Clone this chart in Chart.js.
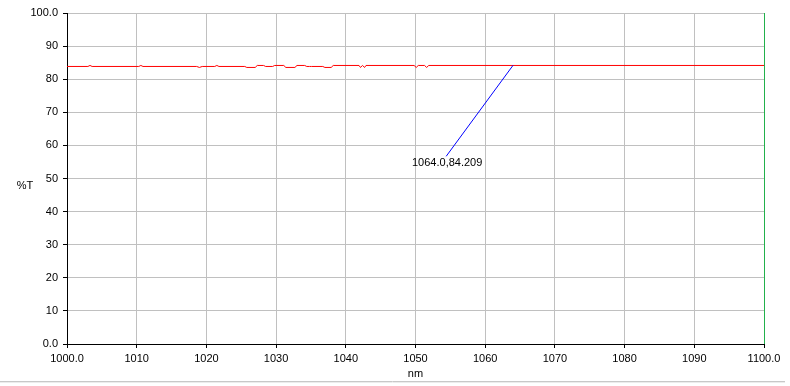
<!DOCTYPE html>
<html>
<head>
<meta charset="utf-8">
<script src="https://cdn.jsdelivr.net/npm/chart.js@4/dist/chart.umd.min.js"></script>
<style>
html,body{margin:0;padding:0;background:#fff;}
#wrap{width:790px;height:386px;position:relative;}
</style>
</head>
<body>
<div id="wrap"><canvas id="c" width="790" height="386"></canvas></div>
<script>
// Spectrum (%T vs wavelength in nm)
const wavelengthNm = [1000, 1003, 1003.3, 1003.6, 1010.3, 1010.6, 1010.9, 1018.6, 1019, 1019.4,
  1021.2, 1021.5, 1021.8, 1025.5, 1025.8, 1027, 1027.3, 1028.2, 1028.5, 1029.5,
  1029.8, 1031.1, 1031.4, 1032.7, 1033, 1034.1, 1034.4, 1034.8, 1035.1, 1036.7,
  1037, 1037.9, 1038.2, 1041.9, 1042.1, 1042.4, 1042.7, 1042.9, 1049.8, 1050.1,
  1050.4, 1051.3, 1051.6, 1051.9, 1100];
const transmittance = [83.85, 83.85, 84.15, 83.85, 83.85, 84.15, 83.85, 83.85, 83.55, 83.85,
  83.85, 84.15, 83.85, 83.85, 83.55, 83.55, 84.15, 84.15, 83.85, 83.85,
  84.15, 84.15, 83.55, 83.55, 84.15, 84.15, 83.85, 83.85, 83.85, 83.85,
  83.55, 83.55, 84.15, 84.15, 83.55, 84.15, 83.55, 84.15, 84.15, 83.55,
  84.15, 84.15, 83.55, 84.15, 84.15];

// Cursor annotation: marked point and label anchor
const cursorX = [1064.0, 1054.4];
const cursorY = [84.209, 56.7];
const cursorLabel = "1064.0,84.209";

// Axis ranges / tick steps
const xRange = [1000, 1100];
const yRange = [0, 100];
const xStep = 10;
const yStep = 10;
const xTitle = "nm";
const yTitle = "%T";

const spectrum = wavelengthNm.map((x, i) => ({x: x, y: transmittance[i]}));
const cursorPts = cursorX.map((x, i) => ({x: x, y: cursorY[i]}));

Chart.defaults.font.family = "'Liberation Sans', Arial, sans-serif";
Chart.defaults.font.size = 11;
Chart.defaults.color = '#000';

function endFmt(v, i, ticks) {
  return (i === 0 || i === ticks.length - 1) ? Number(v).toFixed(1) : String(v);
}

const extras = {
  id: 'extras',
  afterDraw(chart) {
    const ctx = chart.ctx;
    const xs = chart.scales.x, ys = chart.scales.y;
    ctx.save();
    ctx.font = "11px 'Liberation Sans', Arial, sans-serif";
    ctx.fillStyle = '#000';
    // y title (horizontal)
    ctx.textAlign = 'center';
    ctx.textBaseline = 'middle';
    ctx.fillText(yTitle, 25, (ys.top + ys.bottom) / 2 + 7);
    // cursor label
    const px = xs.getPixelForValue(cursorX[1]);
    const py = ys.getPixelForValue(cursorY[1]);
    ctx.textAlign = 'center';
    ctx.textBaseline = 'alphabetic';
    ctx.fillText(cursorLabel, px + 1, py + 10);
    // window separator at bottom
    ctx.strokeStyle = '#c8c8c8';
    ctx.lineWidth = 1;
    ctx.beginPath();
    ctx.moveTo(0, 381.5);
    ctx.lineTo(785, 381.5);
    ctx.stroke();
    ctx.strokeStyle = '#ececec';
    ctx.beginPath();
    ctx.moveTo(0, 382.5);
    ctx.lineTo(785, 382.5);
    ctx.stroke();
    ctx.restore();
  }
};

new Chart(document.getElementById('c'), {
  type: 'line',
  data: {
    datasets: [
      {data: spectrum, borderColor: '#ff0000', borderWidth: 1, pointRadius: 0, tension: 0, fill: false, order: 2},
      {data: cursorPts, borderColor: '#0000ff', borderWidth: 1, pointRadius: 0, tension: 0, fill: false, order: 1}
    ]
  },
  options: {
    responsive: false,
    animation: false,
    parsing: false,
    layout: {padding: {left: 0, top: 13, right: 26, bottom: 0}},
    plugins: {legend: {display: false}, tooltip: {enabled: false}},
    scales: {
      x: {
        type: 'linear', min: xRange[0], max: xRange[1],
        ticks: {stepSize: xStep, callback: endFmt, padding: 4, maxRotation: 0, autoSkip: false},
        grid: {
          color: (c) => (c.tick && c.tick.value === xRange[1]) ? '#22b14c' : '#c0c0c0',
          tickColor: '#000', tickLength: 4, lineWidth: 1
        },
        border: {color: '#000', width: 1},
        title: {display: true, text: xTitle, padding: {top: 0, bottom: 5}},
        afterFit: (s) => { s.height = 42; }
      },
      y: {
        type: 'linear', min: yRange[0], max: yRange[1],
        ticks: {stepSize: yStep, callback: endFmt, padding: 5, autoSkip: false},
        grid: {color: '#c0c0c0', tickColor: '#000', tickLength: 4, lineWidth: 1},
        border: {color: '#000', width: 1},
        afterFit: (s) => { s.width = 67; }
      }
    }
  },
  plugins: [extras]
});
</script>
</body>
</html>
